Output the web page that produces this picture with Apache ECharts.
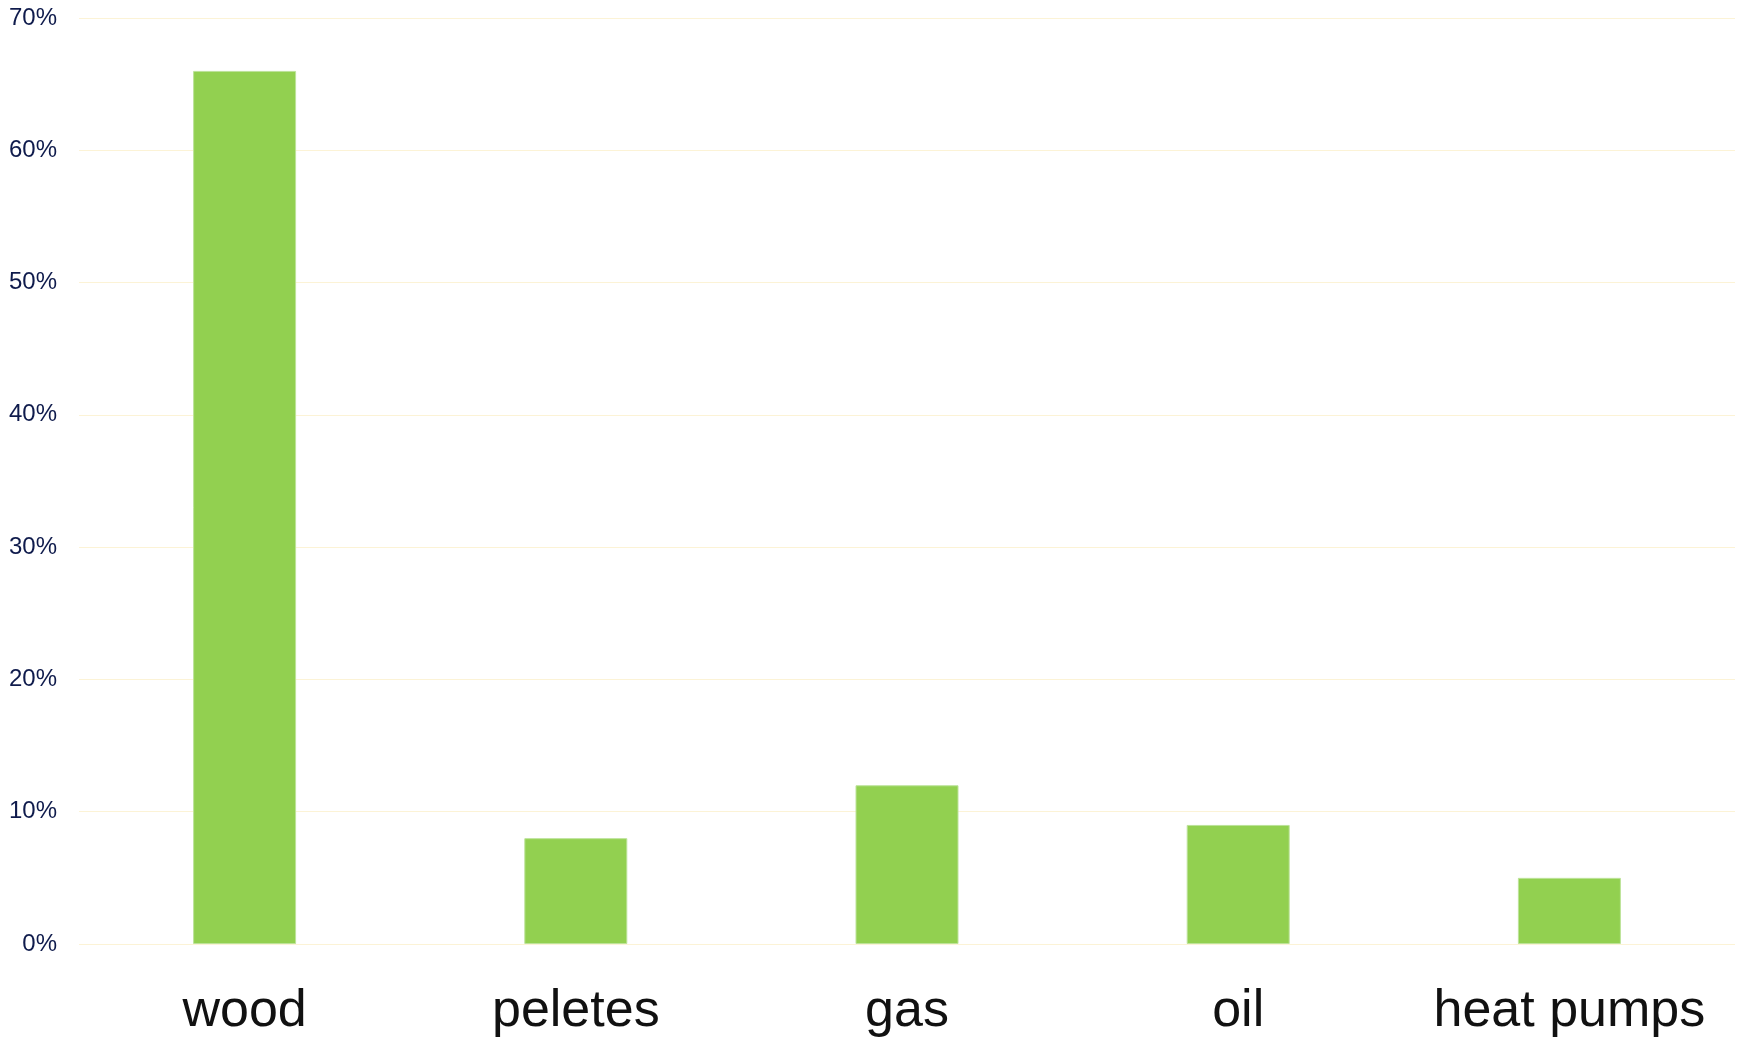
<!DOCTYPE html>
<html>
	<head>
		<meta charset="UTF-8">
		<title>heating sources</title>
		<script src="https://cdn.jsdelivr.net/npm/echarts@6/dist/echarts.min.js"></script>
		<style>
			html, body { margin: 0; padding: 0; background: #fff; }
			#main { width: 1744px; height: 1038px; }
		</style>
	</head>
	<body>
		<div id="main"></div>
		<script type="text/javascript">
			// 数据
			var categories = ['wood', 'peletes', 'gas', 'oil', 'heat pumps'];
			var shares = [66, 8, 12, 9, 5];
			var yTicks = [0, 10, 20, 30, 40, 50, 60, 70];

			var myChart = echarts.init(document.getElementById('main'));

			var option = {
				animation: false,
				grid: {
					left: 79,
					right: 9,
					top: 18,
					bottom: 94
				},
				xAxis: {
					type: 'category',
					data: categories,
					axisLine: { show: false },
					axisTick: { show: false },
					axisLabel: {
						interval: 0,
						margin: 42,
						fontSize: 52,
						color: '#111111',
						fontFamily: 'Liberation Sans, Arial, sans-serif'
					}
				},
				yAxis: {
					type: 'value',
					min: yTicks[0],
					max: yTicks[yTicks.length - 1],
					interval: 10,
					axisLine: { show: false },
					axisTick: { show: false },
					splitLine: { lineStyle: { color: '#fcf3d6', width: 1 } },
					axisLabel: {
						margin: 22,
						fontSize: 24,
						color: '#0f1b4c',
						fontFamily: 'Liberation Sans, Arial, sans-serif',
						formatter: '{value}%'
					}
				},
				series: [{
					type: 'bar',
					data: shares,
					barWidth: 103,
					itemStyle: {
						color: '#92d050',
						borderColor: '#bde39a',
						borderWidth: 1
					}
				}]
			};
			myChart.setOption(option);
		</script>
	</body>
</html>
